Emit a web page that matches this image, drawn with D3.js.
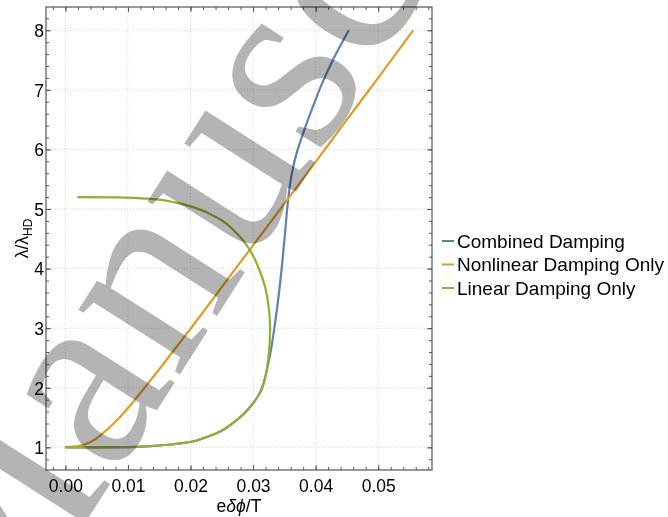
<!DOCTYPE html>
<html>
<head>
<meta charset="utf-8">
<script src="https://cdn.jsdelivr.net/npm/d3@7"></script>
<style>
  body { margin: 0; background: #fff; }
  svg { display: block; font-family: "Liberation Sans", Arial, sans-serif; }
</style>
</head>
<body>
<svg id="chart" width="668" height="517"></svg>
<script>
// tick values
var xTicks = [0, 0.01, 0.02, 0.03, 0.04, 0.05];
var yTicks = [1, 2, 3, 4, 5, 6, 7, 8];

// series as [eδϕ/T, λ/λHD], ordered along each curve (λ rising)
var combinedPts = [[0,1],[0.005,1.0005],[0.01,1.004],[0.0135,1.02],[0.017,1.05],[0.0199,1.09],[0.0225,1.17],
  [0.025,1.28],[0.0268,1.41],[0.0285,1.56],[0.03,1.74],[0.031,1.9],[0.0316,2.05],[0.0322,2.3],
  [0.0328,2.6],[0.0334,3.0],[0.034,3.47],[0.0346,4.03],[0.0351,4.59],[0.0356,5.15],[0.0362,5.6],
  [0.037,5.95],[0.0381,6.3],[0.0395,6.7],[0.041,7.1],[0.043,7.55],[0.0453,8.0]];
var nonlinearPts = [[0,1],[0.002,1.02],[0.004,1.09],[0.006,1.24],[0.008,1.43],[0.01,1.66],[0.0125,1.98],
  [0.015,2.31],[0.0175,2.65],[0.02,2.99],[0.025,3.69],[0.03,4.39],[0.035,5.09],[0.04,5.79],[0.045,6.5],
  [0.05,7.2],[0.0556,8.0]];
var linearPts = [[0,1],[0.005,1.0005],[0.01,1.004],[0.0135,1.02],[0.017,1.05],[0.0199,1.09],[0.0225,1.17],
  [0.025,1.28],[0.0268,1.41],[0.0285,1.56],[0.03,1.74],[0.0312,1.93],[0.032,2.2],[0.0325,2.55],
  [0.03272,3.0],[0.0325,3.35],[0.0319,3.7],[0.031,3.98],[0.0295,4.31],[0.0275,4.58],[0.0245,4.84],
  [0.021,5.01],[0.0175,5.11],[0.0135,5.17],[0.008,5.195],[0.0019,5.2]];

var seriesNames = ["Combined Damping", "Nonlinear Damping Only", "Linear Damping Only"];
var seriesColors = ["#5e81b5", "#e19c24", "#8fb032"];

var svg = d3.select("#chart");
var pLeft = 46, pRight = 432, pTop = 7, pBottom = 470;

var x = d3.scaleLinear().domain([-0.0031, 0.0586]).range([pLeft, pRight]);
var y = d3.scaleLinear().domain([0.62, 8.39]).range([pBottom, pTop]);

var xMinor = d3.range(-0.002, 0.0581, 0.002);
var yMinor = d3.range(0.8, 8.39, 0.2);

// grid
var grid = svg.append("g").attr("stroke", "#c8c8c8").attr("stroke-width", 0.8).attr("stroke-dasharray", "1,2");
grid.selectAll(".gx").data(xTicks).enter().append("line")
  .attr("x1", function(d){ return x(d); }).attr("x2", function(d){ return x(d); })
  .attr("y1", pTop).attr("y2", pBottom);
grid.selectAll(".gy").data(yTicks).enter().append("line")
  .attr("y1", function(d){ return y(d); }).attr("y2", function(d){ return y(d); })
  .attr("x1", pLeft).attr("x2", pRight);

// curves: every series rises in λ, so a monotone-in-y spline keeps them smooth
var line = d3.line()
  .x(function(d){ return x(d[0]); })
  .y(function(d){ return y(d[1]); })
  .curve(d3.curveMonotoneY);

[combinedPts, nonlinearPts, linearPts].forEach(function(pts, i) {
  svg.append("path").datum(pts)
    .attr("d", line)
    .attr("fill", "none")
    .attr("stroke", seriesColors[i])
    .attr("stroke-width", 2.2)
    .attr("stroke-linejoin", "round");
});

// frame with inward ticks on all four sides
var frameColor = "#555";
function sideAxis(axisFn, scale, ticks, minor, tx, ty, labels) {
  var gMaj = svg.append("g").attr("transform", "translate(" + tx + "," + ty + ")")
    .call(axisFn(scale).tickValues(ticks).tickSize(-5).tickPadding(8)
      .tickFormat(labels ? labels : function(){ return ""; }));
  var gMin = svg.append("g").attr("transform", "translate(" + tx + "," + ty + ")")
    .call(axisFn(scale).tickValues(minor).tickSize(-3).tickFormat(function(){ return ""; }));
  [gMaj, gMin].forEach(function(g) {
    g.selectAll(".domain").remove();
    g.selectAll("line").attr("stroke", frameColor).attr("stroke-width", 1);
  });
  gMaj.selectAll("text").attr("fill", "#000").style("font-size", "17.5px")
    .style("font-family", "'Liberation Sans', Arial, sans-serif");
  return gMaj;
}
var bx = sideAxis(d3.axisBottom, x, xTicks, xMinor, 0, pBottom, d3.format(".2f"));
bx.selectAll("text").attr("dy", "0.8em");
sideAxis(d3.axisTop, x, xTicks, xMinor, 0, pTop, null);
var ly = sideAxis(d3.axisLeft, y, yTicks, yMinor, pLeft, 0, d3.format("d"));
ly.selectAll("text").attr("dx", "6px").attr("dy", "0.36em");
sideAxis(d3.axisRight, y, yTicks, yMinor, pRight, 0, null);

svg.append("rect").attr("x", pLeft).attr("y", pTop)
  .attr("width", pRight - pLeft).attr("height", pBottom - pTop)
  .attr("fill", "none").attr("stroke", frameColor).attr("stroke-width", 1.2);

// axis labels
var xl = svg.append("text").attr("x", (pLeft + pRight) / 2).attr("y", 512)
  .attr("text-anchor", "middle").style("font-size", "17.5px");
xl.append("tspan").text("e");
xl.append("tspan").style("font-style", "italic").text("δϕ");
xl.append("tspan").text("/T");

var yl = svg.append("text").attr("transform", "translate(28," + ((pTop + pBottom) / 2) + ") rotate(-90)")
  .attr("text-anchor", "middle").style("font-size", "17.5px");
yl.append("tspan").text("λ/λ");
yl.append("tspan").attr("dy", 4).style("font-size", "12px").text("HD");

// legend
var lg = svg.append("g").attr("transform", "translate(442,241)");
seriesNames.forEach(function(name, i) {
  var row = lg.append("g").attr("transform", "translate(0," + (i * 23.5) + ")");
  row.append("line").attr("x1", 0).attr("x2", 12).attr("y1", 0).attr("y2", 0)
    .attr("stroke", seriesColors[i]).attr("stroke-width", 2);
  row.append("text").attr("x", 15).attr("y", 6.5).style("font-size", "19px").text(name);
});

// watermark
svg.append("text")
  .attr("transform", "translate(-11,674) rotate(-57.5)")
  .style("font-family", "'Liberation Serif', 'Times New Roman', serif")
  .style("font-size", "262px")
  .style("mix-blend-mode", "multiply")
  .attr("fill", "#b4b4b4")
  .text("Manuscript");
</script>
</body>
</html>
